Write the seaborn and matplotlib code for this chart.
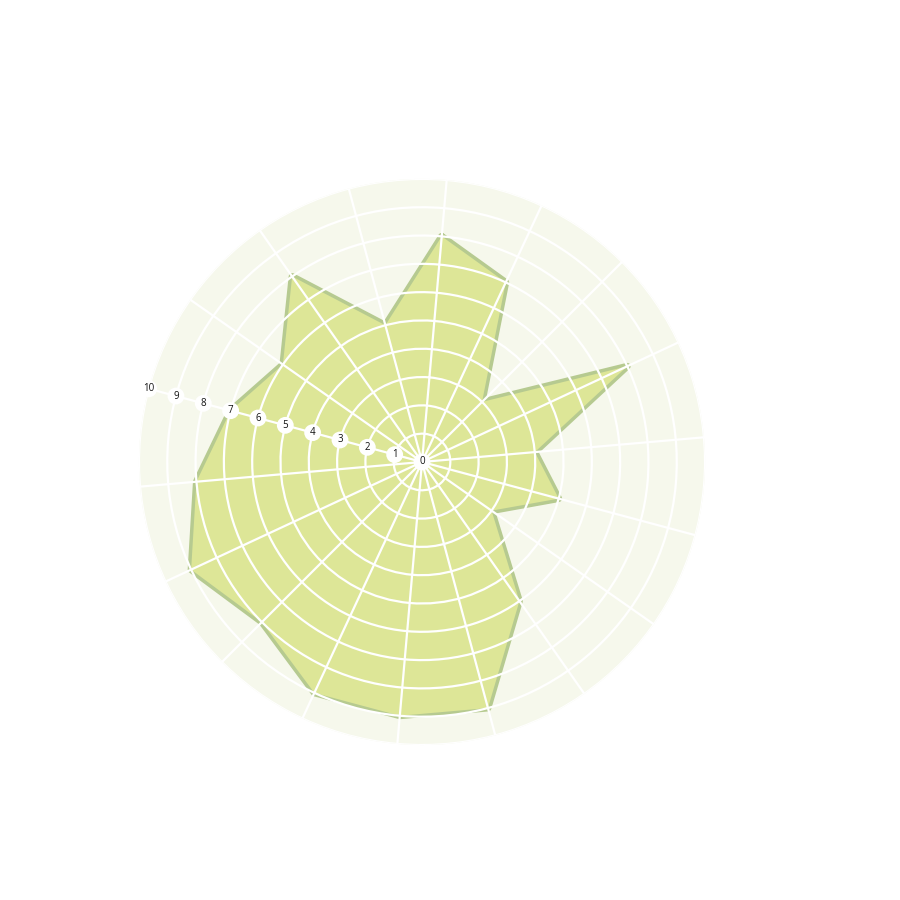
import numpy as np
import pandas as pd
import matplotlib
matplotlib.use("Agg")
import matplotlib.pyplot as plt
import seaborn as sns

# values read clockwise, starting from the spoke just right of the top
values = [8, 7, 3, 8, 4, 5, 3, 6, 9, 9, 9, 8, 9, 8, 7, 6, 8, 5]
r_ticks = list(range(0, 11))

fill_color = "#dde697"
edge_color = "#b6ca90"
bg_color = "#f6f8ec"

sns.set_style("white")
plt.rcParams["font.family"] = ["Open Sans", "DejaVu Sans"]

n = len(values)
theta = np.arange(n) * 2 * np.pi / n
df = pd.DataFrame({"theta": np.append(theta, theta[0]),
                   "value": values + values[:1]})

fig = plt.figure(figsize=(9, 9), dpi=100)
ax = fig.add_axes([0.1544, 0.1722, 0.629, 0.629], projection="polar")
ax.set_theta_offset(np.deg2rad(85))
ax.set_theta_direction(-1)
ax.set_facecolor(bg_color)
ax.spines["polar"].set_visible(False)

# dark outline first, light fill on top hides its inner half
sns.lineplot(data=df, x="theta", y="value", sort=False, ax=ax,
             color=edge_color, lw=5, estimator=None)
ax.fill(df["theta"], df["value"], color=fill_color, lw=0, zorder=2.2)

ax.set_ylim(0, 10)
ax.set_yticks(r_ticks[1:])
ax.set_yticklabels([])
ax.set_xticks(theta)
ax.set_xticklabels([])
ax.set_xlabel("")
ax.set_ylabel("")
ax.set_axisbelow(False)
ax.grid(True, color="white", lw=1.6)

# radial labels along the spoke pointing up-left (165 deg on screen)
label_theta = np.deg2rad(85 - 165)
for r in r_ticks:
    ax.text(label_theta, r, str(r), ha="center", va="center",
            fontsize=7, color="#111111", zorder=5,
            bbox=dict(boxstyle="circle,pad=0.3", fc="white", ec="none"))

fig.savefig("out.png", dpi=100, facecolor="white")
